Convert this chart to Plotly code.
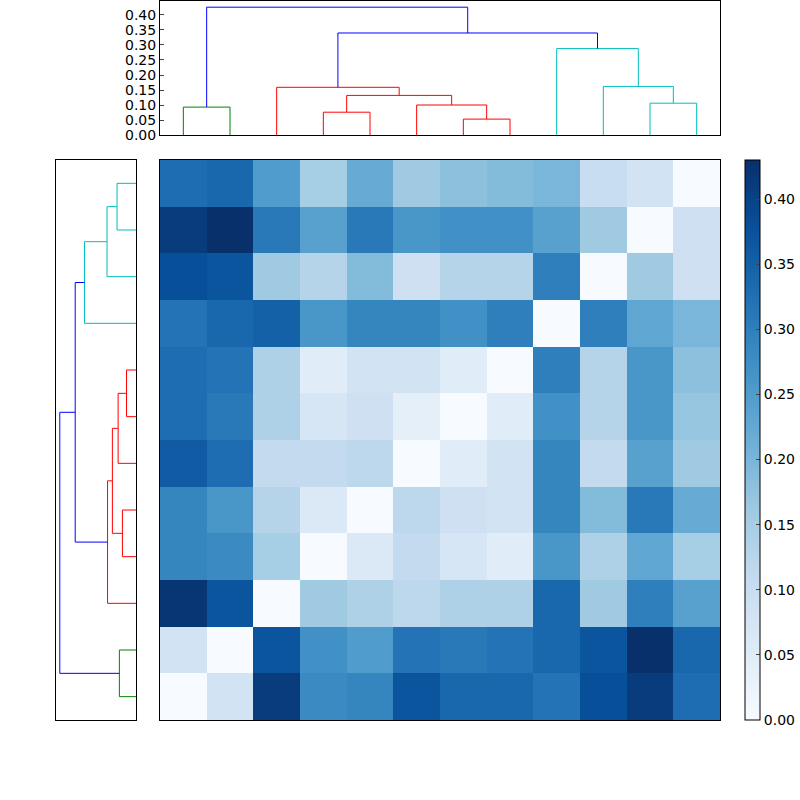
import plotly.graph_objects as go

# linkage: (child_a, child_b, height, colour); leaves 0..11, new clusters 12+
link_a = [0, 3, 6, 5, 13, 2, 10, 9, 8, 17, 12]
link_b = [1, 4, 7, 14, 15, 16, 11, 18, 19, 20, 21]
link_h = [0.093, 0.076, 0.053, 0.10, 0.132, 0.159, 0.106, 0.162, 0.288, 0.34, 0.426]
link_c = ['#008000', '#ff0000', '#ff0000', '#ff0000', '#ff0000', '#ff0000',
          '#00bfbf', '#00bfbf', '#00bfbf', '#0000ff', '#0000ff']
n_leaves = 12

# distance matrix as displayed, top row to bottom row
dist = [
    [0.33, 0.34, 0.25, 0.15, 0.22, 0.16, 0.18, 0.19, 0.20, 0.10, 0.08, 0.00],
    [0.41, 0.43, 0.31, 0.24, 0.31, 0.26, 0.27, 0.27, 0.24, 0.16, 0.00, 0.09],
    [0.38, 0.37, 0.16, 0.13, 0.19, 0.09, 0.13, 0.13, 0.30, 0.00, 0.16, 0.09],
    [0.32, 0.34, 0.35, 0.26, 0.29, 0.29, 0.27, 0.30, 0.00, 0.30, 0.23, 0.20],
    [0.33, 0.32, 0.14, 0.05, 0.08, 0.08, 0.05, 0.00, 0.30, 0.13, 0.26, 0.18],
    [0.33, 0.31, 0.14, 0.07, 0.09, 0.04, 0.00, 0.05, 0.27, 0.13, 0.26, 0.17],
    [0.36, 0.33, 0.11, 0.11, 0.12, 0.00, 0.05, 0.08, 0.29, 0.11, 0.24, 0.16],
    [0.29, 0.26, 0.13, 0.06, 0.00, 0.12, 0.09, 0.08, 0.29, 0.19, 0.31, 0.22],
    [0.29, 0.28, 0.15, 0.00, 0.06, 0.11, 0.07, 0.05, 0.26, 0.14, 0.23, 0.15],
    [0.42, 0.37, 0.00, 0.16, 0.14, 0.12, 0.14, 0.14, 0.34, 0.16, 0.30, 0.24],
    [0.08, 0.00, 0.37, 0.27, 0.25, 0.32, 0.31, 0.32, 0.34, 0.37, 0.43, 0.34],
    [0.00, 0.08, 0.41, 0.28, 0.29, 0.37, 0.34, 0.34, 0.32, 0.38, 0.41, 0.33],
]

# scipy-style positions
pos = {i: 5 + 10 * i for i in range(n_leaves)}
hgt = {i: 0.0 for i in range(n_leaves)}
segs = []
for k, (a, b, h, c) in enumerate(zip(link_a, link_b, link_h, link_c)):
    cid = n_leaves + k
    segs.append(([pos[a], pos[a], pos[b], pos[b]], [hgt[a], h, h, hgt[b]], c))
    pos[cid] = (pos[a] + pos[b]) / 2
    hgt[cid] = h

top = max(link_h) * 1.05
leaf_pos = [pos[i] for i in range(n_leaves)]
ticks = [i * 0.05 for i in range(9)]

fig = go.Figure()
for xs, hs, c in segs:
    fig.add_trace(go.Scatter(x=xs, y=hs, mode='lines', line=dict(color=c, width=1),
                             xaxis='x', yaxis='y', showlegend=False, hoverinfo='skip'))
    fig.add_trace(go.Scatter(x=hs, y=xs, mode='lines', line=dict(color=c, width=1),
                             xaxis='x2', yaxis='y2', showlegend=False, hoverinfo='skip'))

fig.add_trace(go.Heatmap(
    z=dist, x=leaf_pos, y=leaf_pos[::-1], xaxis='x3', yaxis='y3',
    colorscale='Blues', zmin=0, zmax=max(max(r) for r in dist),
    colorbar=dict(x=745 / 800, xanchor='left', y=0.1, yanchor='bottom', len=0.7,
                  thickness=15, outlinewidth=1, outlinecolor='black', xpad=0, ypad=0,
                  tickvals=ticks, tickformat='.2f',
                  ticks='inside', ticklen=4, tickfont=dict(size=14))))

frame = dict(showline=True, linecolor='black', linewidth=1, mirror=True,
             showgrid=False, zeroline=False)
fig.update_layout(
    width=800, height=800, margin=dict(l=0, r=0, t=0, b=0, autoexpand=False),
    paper_bgcolor='white', plot_bgcolor='white',
    font=dict(family='DejaVu Sans', size=14, color='black'),
    xaxis=dict(domain=[0.2, 0.9], anchor='y', range=[0, 120], showticklabels=False,
               ticks='', **frame),
    yaxis=dict(domain=[1 - 135 / 800, 0.999], anchor='x', range=[0, top],
               tickvals=ticks, tickformat='.2f', tickfont=dict(size=14),
               ticks='inside', ticklen=4, **frame),
    xaxis2=dict(domain=[0.07, 0.17], anchor='y2', range=[top, 0], showticklabels=False,
                ticks='', **frame),
    yaxis2=dict(domain=[0.1, 0.8], anchor='x2', range=[0, 120], showticklabels=False,
                ticks='', **frame),
    xaxis3=dict(domain=[0.2, 0.9], anchor='y3', range=[0, 120], showticklabels=False,
                ticks='', **frame),
    yaxis3=dict(domain=[0.1, 0.8], anchor='x3', range=[0, 120], showticklabels=False,
                ticks='', **frame),
)

fig.write_html("out.html", config={'displayModeBar': False},
               post_script="document.body.style.margin='0';")
